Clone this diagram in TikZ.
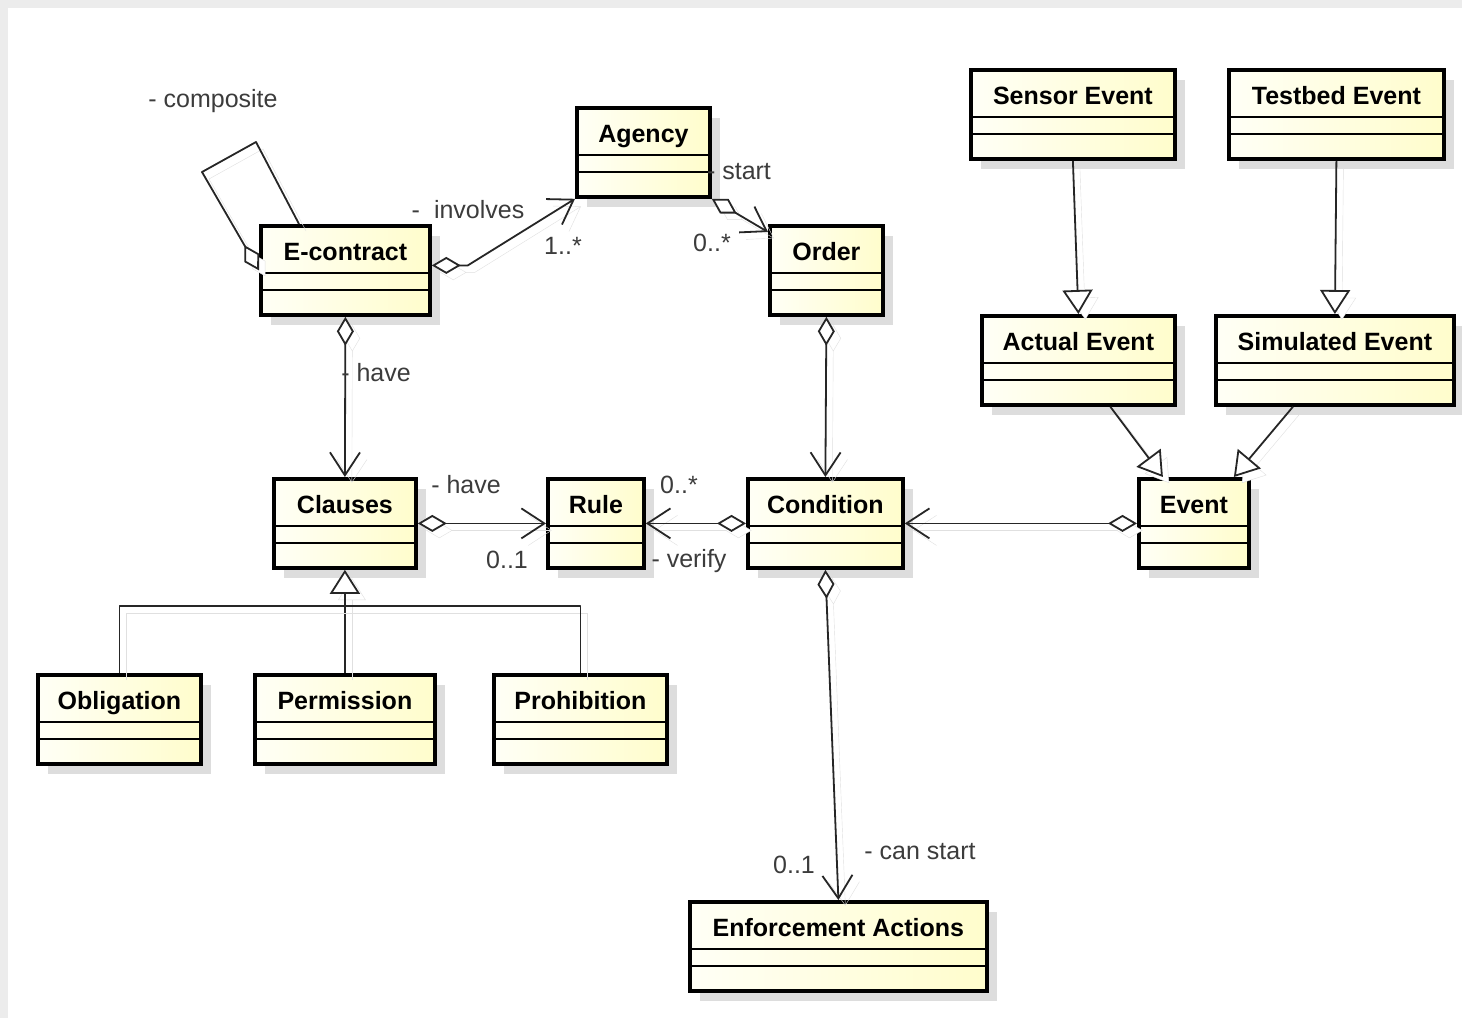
\documentclass[tikz,border=0pt]{standalone}
\usepackage{fontspec}
\setmainfont{Liberation Sans}
\usetikzlibrary{arrows.meta,shadows,calc}
\definecolor{clsleft}{RGB}{255,255,246}
\definecolor{clsright}{RGB}{255,253,204}
\definecolor{shadegray}{RGB}{221,221,221}
\definecolor{lblgray}{RGB}{60,60,60}
\definecolor{framegray}{RGB}{236,236,236}

\begin{document}
\begin{tikzpicture}[x=1pt,y=-1pt,
    cls/.style={draw, line width=3.8pt, anchor=north west, minimum height=89pt,
      inner xsep=0pt, inner ysep=0pt, text height=35pt, text depth=54pt,
      font=\bfseries\fontsize{25}{30}\selectfont,
      left color=clsleft, right color=clsright,
      drop shadow={shadow xshift=10pt, shadow yshift=-10pt, fill=shadegray, opacity=1},
      path picture={
        \draw[line width=1.8pt] ([yshift=-47pt]path picture bounding box.north west) -- ([yshift=-47pt]path picture bounding box.north east);
        \draw[line width=1.8pt] ([yshift=-64pt]path picture bounding box.north west) -- ([yshift=-64pt]path picture bounding box.north east);
      }},
    lbl/.style={font=\fontsize{25}{30}\selectfont, text=lblgray, inner sep=0pt},
    link/.style={draw=black!85, line width=1.8pt, line join=round,
      preaction={draw=black!12, transform canvas={shift={(7pt,-7pt)}}}},
    assoc/.style={link, {Diamond[fill=white, length=29pt, width=17pt]}-{Straight Barb[length=23pt, width=30pt]}},
    comp/.style={link, -{Diamond[fill=white, length=29pt, width=17pt]}},
    gen/.style={link, -{Triangle[fill=white, length=24pt, width=30pt]}}
  ]
    \useasboundingbox (0,0) rectangle (1462,1018);
    \fill[framegray] (0,0) rectangle (1462,1018);
    \fill[white] (8,8) rectangle (1462,1018);

    % classes
    \node[cls, minimum width=169pt] (econtract) at (259,224) {E-contract};
    \node[cls, minimum width=133pt] (agency) at (575,106) {Agency};
    \node[cls, minimum width=113pt] (order) at (768,224) {Order};
    \node[cls, minimum width=142pt] (clauses) at (272,477) {Clauses};
    \node[cls, minimum width=96pt] (rule) at (546,477) {Rule};
    \node[cls, minimum width=155pt] (condition) at (746,477) {Condition};
    \node[cls, minimum width=110pt] (event) at (1137,477) {Event};
    \node[cls, minimum width=204pt] (sensor) at (969,68) {Sensor Event};
    \node[cls, minimum width=215pt] (testbed) at (1227,68) {Testbed Event};
    \node[cls, minimum width=193pt] (actual) at (980,314) {Actual Event};
    \node[cls, minimum width=238pt] (simulated) at (1214,314) {Simulated Event};
    \node[cls, minimum width=163pt] (obligation) at (36,673) {Obligation};
    \node[cls, minimum width=180pt] (permission) at (253,673) {Permission};
    \node[cls, minimum width=173pt] (prohibition) at (492,673) {Prohibition};
    \node[cls, minimum width=297pt] (enforce) at (688,900) {Enforcement Actions};

    % bends
    \coordinate (loopa) at (256,142);
    \coordinate (loopb) at (202,172);
    \coordinate (treebar) at (342,606);

    % associations
    \draw[comp] ($(econtract.north west)+(40,0)$) -- (loopa) -- (loopb) -- (econtract.west);
    \draw[assoc] ($(econtract.east)+(0,-5)$) -- ++(36,0) -- (agency.south west);
    \draw[assoc] (agency.south east) -- ($(order.north west)+(0,8)$);
    \draw[assoc] (econtract.south) -- (clauses.north);
    \draw[assoc] (order.south) -- (condition.north);
    \draw[assoc] (clauses.east) -- (rule.west);
    \draw[assoc] (condition.west) -- (rule.east);
    \draw[assoc] (event.west) -- (condition.east);
    \draw[assoc] (condition.south) -- (enforce.north);

    % generalisations
    \draw[gen] (sensor.south) -- (actual.north);
    \draw[gen] (testbed.south) -- (simulated.north);
    \draw[gen] ($(actual.south)+(32,0)$) -- ($(event.north)+(-31,0)$);
    \draw[gen] ($(simulated.south)+(-42,0)$) -- ($(event.north)+(40,0)$);
    \draw[gen] (permission.north) -- (clauses.south);
    \draw[link] (obligation.north) -- (obligation.north |- treebar) -- (prohibition.north |- treebar) -- (prohibition.north);

    % labels
    \node[lbl] (lcomposite) at (213,101) {- composite};
    \node[lbl] (linvolves) at (468,210) {-\hspace{14pt}involves};
    \node[lbl] (linvmult) at (563,246) {1..*};
    \node[lbl] (lstart) at (739,172) {- start};
    \node[lbl] (lstartmult) at (712,243) {0..*};
    \node[lbl] (lhavea) at (376,373) {- have};
    \node[lbl] (lhaveb) at (466,485) {- have};
    \node[lbl] (lhavemult) at (507,560) {0..1};
    \node[lbl] (lverifymult) at (679,485) {0..*};
    \node[lbl] (lverify) at (689,561) {- verify};
    \node[lbl] (lcanmult) at (794,865) {0..1};
    \node[lbl] (lcanstart) at (920,852) {- can start};
\end{tikzpicture}
\end{document}
